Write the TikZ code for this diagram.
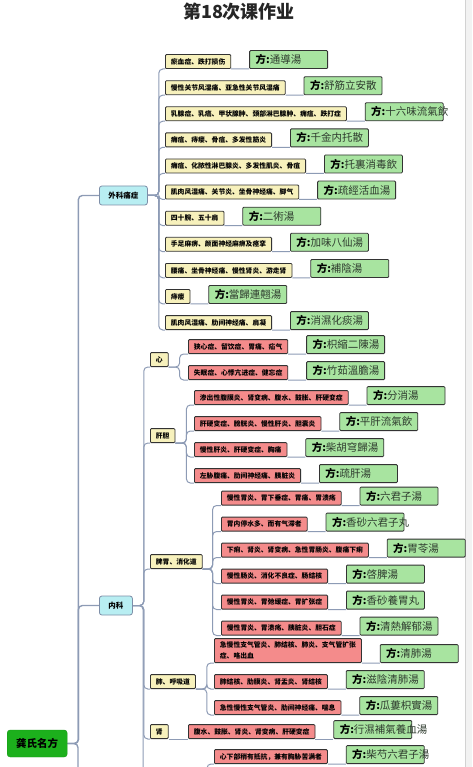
\documentclass[tikz,border=0pt]{standalone}
\usepackage{fontspec}
\setmainfont{Noto Sans CJK SC}
\usetikzlibrary{positioning,backgrounds}

\definecolor{wkcyan}{HTML}{B8EEF2}
\definecolor{catline}{HTML}{7E8EA8}
\definecolor{symyellow}{HTML}{F7F1BC}
\definecolor{illred}{HTML}{F48B8B}
\definecolor{fanggreen}{HTML}{A8E4A0}
\definecolor{rootgreen}{HTML}{1CB01C}
\definecolor{branchcol}{HTML}{8D9BB5}
\definecolor{boxedge}{HTML}{333333}
\definecolor{herbtext}{HTML}{2E3B2E}
\definecolor{stripgray}{HTML}{F2F2F2}

\newcommand{\fangname}[1]{\textbf{方:}{\color{herbtext}#1}}

\begin{document}
\begin{tikzpicture}[
    x=1pt, y=-1pt,
    node distance=18pt,
    title/.style={font=\fontsize{18}{20}\selectfont\bfseries, text=black!85},
    rootbox/.style={rectangle, draw=rootgreen!85!black, fill=rootgreen, rounded corners=3pt, minimum width=60pt, minimum height=27pt, font=\fontsize{10.5}{12}\selectfont\bfseries, anchor=west},
    catbox/.style={rectangle, draw=catline, line width=0.8pt, fill=wkcyan, rounded corners=2.5pt, minimum height=19pt, inner xsep=7pt, font=\fontsize{7.5}{9}\selectfont\bfseries, anchor=west},
    symbox/.style={rectangle, draw=boxedge, line width=0.8pt, fill=symyellow, rounded corners=1pt, minimum height=14pt, inner xsep=5.5pt, inner ysep=1pt, font=\fontsize{6.8}{8}\selectfont\bfseries},
    illbox/.style={symbox, fill=illred},
    fangbox/.style={rectangle, draw=boxedge, line width=0.8pt, fill=fanggreen, rounded corners=1pt, minimum height=18pt, text width=66pt, inner xsep=6pt, inner ysep=1pt, align=left, font=\fontsize{10.5}{12}\selectfont},
    branch/.style={draw=branchcol, line width=1.4pt, rounded corners=4pt},
    twig/.style={draw=branchcol, line width=1pt, rounded corners=4pt}
]
\useasboundingbox (0,0) rectangle (472,767);

% Title
\node[title] (ttl) at (239,12) {第18次课作业};

% Root and first level
\node[rootbox] (root) at (7,743.5) {龚氏名方};
\node[catbox, minimum width=48pt] (wk) at (99,195.5) {外科痛症};
\node[catbox, minimum width=33pt] (nk) at (99,605.5) {内科};

% 外科痛症
\node[symbox, anchor=south west] (w1) at (165,69) {瘀血症、跌打损伤};
\node[symbox, below=11.3pt of w1.south west, anchor=north west] (w2) {慢性关节风湿痛、亚急性关节风湿痛};
\node[symbox, below=11.3pt of w2.south west, anchor=north west] (w3) {乳腺症、乳癌、甲状腺肿、颈部淋巴腺肿、痈疽、跌打症};
\node[symbox, below=11.3pt of w3.south west, anchor=north west] (w4) {痈疽、痔瘘、骨疽、多发性筋炎};
\node[symbox, below=11.3pt of w4.south west, anchor=north west] (w5) {痈疽、化脓性淋巴腺炎、多发性肌炎、骨疽};
\node[symbox, below=11.3pt of w5.south west, anchor=north west] (w6) {肌肉风湿痛、关节炎、坐骨神经痛、脚气};
\node[symbox, below=11.3pt of w6.south west, anchor=north west] (w7) {四十腕、五十肩};
\node[symbox, below=11.3pt of w7.south west, anchor=north west] (w8) {手足麻痹、颜面神经麻痹及痉挛};
\node[symbox, below=11.3pt of w8.south west, anchor=north west] (w9) {腰痛、坐骨神经痛、慢性肾炎、游走肾};
\node[symbox, below=11.3pt of w9.south west, anchor=north west] (w10) {痔瘘};
\node[symbox, below=11.3pt of w10.south west, anchor=north west] (w11) {肌肉风湿痛、肋间神经痛、肩凝};

\node[fangbox, right=of w1.south east, anchor=south west] (wf1) {\fangname{通導湯}};
\node[fangbox, right=of w2.south east, anchor=south west] (wf2) {\fangname{舒筋立安散}};
\node[fangbox, right=of w3.south east, anchor=south west] (wf3) {\fangname{十六味流氣飲}};
\node[fangbox, right=of w4.south east, anchor=south west] (wf4) {\fangname{千金内托散}};
\node[fangbox, right=of w5.south east, anchor=south west] (wf5) {\fangname{托裏消毒飲}};
\node[fangbox, right=of w6.south east, anchor=south west] (wf6) {\fangname{疏經活血湯}};
\node[fangbox, right=of w7.south east, anchor=south west] (wf7) {\fangname{二術湯}};
\node[fangbox, right=of w8.south east, anchor=south west] (wf8) {\fangname{加味八仙湯}};
\node[fangbox, right=of w9.south east, anchor=south west] (wf9) {\fangname{補陰湯}};
\node[fangbox, right=of w10.south east, anchor=south west] (wf10) {\fangname{當歸連翹湯}};
\node[fangbox, right=of w11.south east, anchor=south west] (wf11) {\fangname{消濕化痰湯}};

% 内科 organs
\node[symbox, anchor=south west] (xin) at (150,367) {心};
\node[symbox, anchor=south west] (gd) at (150,443) {肝胆};
\node[symbox, anchor=south west] (pw) at (150,569) {脾胃、消化道};
\node[symbox, anchor=south west] (fei) at (150,689) {肺、呼吸道};
\node[symbox, anchor=south west] (shen) at (150,739) {肾};

% 心
\node[illbox, anchor=south west] (x1) at (188,354) {狭心症、留饮症、胃痛、疝气};
\node[illbox, below=11.2pt of x1.south west, anchor=north west] (x2) {失眠症、心悸亢进症、健忘症};
\node[fangbox, right=of x1.south east, anchor=south west] (xf1) {\fangname{枳縮二陳湯}};
\node[fangbox, right=of x2.south east, anchor=south west] (xf2) {\fangname{竹茹溫膽湯}};

% 肝胆
\node[illbox, anchor=south west] (g1) at (194,405) {渗出性腹膜炎、肾变病、腹水、鼓胀、肝硬变症};
\node[illbox, below=11.2pt of g1.south west, anchor=north west] (g2) {肝硬变症、膀胱炎、慢性肝炎、胆囊炎};
\node[illbox, below=11.2pt of g2.south west, anchor=north west] (g3) {慢性肝炎、肝硬变症、胸痛};
\node[illbox, below=11.2pt of g3.south west, anchor=north west] (g4) {左胁腹痛、肋间神经痛、胰脏炎};
\node[fangbox, right=of g1.south east, anchor=south west] (gf1) {\fangname{分消湯}};
\node[fangbox, right=of g2.south east, anchor=south west] (gf2) {\fangname{平肝流氣飲}};
\node[fangbox, right=of g3.south east, anchor=south west] (gf3) {\fangname{柴胡穹歸湯}};
\node[fangbox, right=of g4.south east, anchor=south west] (gf4) {\fangname{疏肝湯}};

% 脾胃、消化道
\node[illbox, anchor=south west] (p1) at (221,505.5) {慢性胃炎、胃下垂症、胃痛、胃溃疡};
\node[illbox, below=11.2pt of p1.south west, anchor=north west] (p2) {胃内停水多、而有气滞者};
\node[illbox, below=11.2pt of p2.south west, anchor=north west] (p3) {下痢、肾炎、肾变病、急性胃肠炎、腹痛下痢};
\node[illbox, below=11.2pt of p3.south west, anchor=north west] (p4) {慢性肠炎、消化不良症、肠结核};
\node[illbox, below=11.2pt of p4.south west, anchor=north west] (p5) {慢性胃炎、胃弛缓症、胃扩张症};
\node[illbox, below=11.2pt of p5.south west, anchor=north west] (p6) {慢性胃炎、胃溃疡、胰脏炎、胆石症};
\node[fangbox, right=of p1.south east, anchor=south west] (pf1) {\fangname{六君子湯}};
\node[fangbox, right=of p2.south east, anchor=south west] (pf2) {\fangname{香砂六君子丸}};
\node[fangbox, right=of p3.south east, anchor=south west] (pf3) {\fangname{胃苓湯}};
\node[fangbox, right=of p4.south east, anchor=south west] (pf4) {\fangname{啓脾湯}};
\node[fangbox, right=of p5.south east, anchor=south west] (pf5) {\fangname{香砂養胃丸}};
\node[fangbox, right=of p6.south east, anchor=south west] (pf6) {\fangname{清熱解郁湯}};

% 肺、呼吸道
\node[illbox, anchor=south west, align=left, minimum height=24pt, font=\fontsize{6.8}{11}\selectfont\bfseries] (e1) at (214,663) {急慢性支气管炎、肺结核、肺炎、支气管扩张\\症、咯出血};
\node[illbox, anchor=south west] (e2) at (214,689) {肺结核、肋膜炎、肾盂炎、肾结核};
\node[illbox, below=11.2pt of e2.south west, anchor=north west] (e3) {急性慢性支气管炎、肋间神经痛、喘息};
\node[fangbox, right=of e1.south east, anchor=south west] (ef1) {\fangname{清肺湯}};
\node[fangbox, right=of e2.south east, anchor=south west] (ef2) {\fangname{滋陰清肺湯}};
\node[fangbox, right=of e3.south east, anchor=south west] (ef3) {\fangname{瓜蔞枳實湯}};

% 肾
\node[illbox, anchor=south west] (s1) at (188,739) {腹水、鼓胀、肾炎、肾变病、肝硬变症};
\node[fangbox, right=of s1.south east, anchor=south west] (sf1) {\fangname{行濕補氣養血湯}};

% next organ, cut off below
\node[illbox, anchor=south west] (l1) at (214,764) {心下部稍有抵抗，兼有胸胁苦满者};
\node[fangbox, right=of l1.south east, anchor=south west] (lf1) {\fangname{柴芍六君子湯}};

% loose ends running off the page
\coordinate (rootend) at (78,772);
\coordinate (nkend) at (143,772);
\coordinate (l1end) at (207,772);

\begin{scope}[on background layer]
\fill[stripgray] (465,0) rectangle (472,767);
\draw[gray!35] (465,0) -- (465,767);

% Connectors
\draw[branch] (root.east) -| (rootend);
\draw[branch] (root.east) -- ++(11pt,0) |- (wk.west);
\draw[branch] (root.east) -- ++(11pt,0) |- (nk.west);

\draw[twig] (wk.east) -- ++(11pt,0) |- (w1.south west) (w1.south east) -- (wf1.south west);
\draw[twig] (wk.east) -- ++(11pt,0) |- (w2.south west) (w2.south east) -- (wf2.south west);
\draw[twig] (wk.east) -- ++(11pt,0) |- (w3.south west) (w3.south east) -- (wf3.south west);
\draw[twig] (wk.east) -- ++(11pt,0) |- (w4.south west) (w4.south east) -- (wf4.south west);
\draw[twig] (wk.east) -- ++(11pt,0) |- (w5.south west) (w5.south east) -- (wf5.south west);
\draw[twig] (wk.east) -- ++(11pt,0) |- (w6.south west) (w6.south east) -- (wf6.south west);
\draw[twig] (wk.east) -- ++(11pt,0) |- (w7.south west) (w7.south east) -- (wf7.south west);
\draw[twig] (wk.east) -- ++(11pt,0) |- (w8.south west) (w8.south east) -- (wf8.south west);
\draw[twig] (wk.east) -- ++(11pt,0) |- (w9.south west) (w9.south east) -- (wf9.south west);
\draw[twig] (wk.east) -- ++(11pt,0) |- (w10.south west) (w10.south east) -- (wf10.south west);
\draw[twig] (wk.east) -- ++(11pt,0) |- (w11.south west) (w11.south east) -- (wf11.south west);

\draw[twig] (nk.east) -| (nkend);
\draw[twig] (nk.east) -- ++(11pt,0) |- (xin.south west);
\draw[twig] (nk.east) -- ++(11pt,0) |- (gd.south west);
\draw[twig] (nk.east) -- ++(11pt,0) |- (pw.south west);
\draw[twig] (nk.east) -- ++(11pt,0) |- (fei.south west);
\draw[twig] (nk.east) -- ++(11pt,0) |- (shen.south west);

\draw[twig] (xin.south east) -- ++(11pt,0) |- (x1.south west) (x1.south east) -- (xf1.south west);
\draw[twig] (xin.south east) -- ++(11pt,0) |- (x2.south west) (x2.south east) -- (xf2.south west);

\draw[twig] (gd.south east) -- ++(11pt,0) |- (g1.south west) (g1.south east) -- (gf1.south west);
\draw[twig] (gd.south east) -- ++(11pt,0) |- (g2.south west) (g2.south east) -- (gf2.south west);
\draw[twig] (gd.south east) -- ++(11pt,0) |- (g3.south west) (g3.south east) -- (gf3.south west);
\draw[twig] (gd.south east) -- ++(11pt,0) |- (g4.south west) (g4.south east) -- (gf4.south west);

\draw[twig] (pw.south east) -- ++(10pt,0) |- (p1.south west) (p1.south east) -- (pf1.south west);
\draw[twig] (pw.south east) -- ++(10pt,0) |- (p2.south west) (p2.south east) -- (pf2.south west);
\draw[twig] (pw.south east) -- ++(10pt,0) |- (p3.south west) (p3.south east) -- (pf3.south west);
\draw[twig] (pw.south east) -- ++(10pt,0) |- (p4.south west) (p4.south east) -- (pf4.south west);
\draw[twig] (pw.south east) -- ++(10pt,0) |- (p5.south west) (p5.south east) -- (pf5.south west);
\draw[twig] (pw.south east) -- ++(10pt,0) |- (p6.south west) (p6.south east) -- (pf6.south west);

\draw[twig] (fei.south east) -- ++(11pt,0) |- (e1.south west) (e1.south east) -- (ef1.south west);
\draw[twig] (fei.south east) -- ++(11pt,0) |- (e2.south west) (e2.south east) -- (ef2.south west);
\draw[twig] (fei.south east) -- ++(11pt,0) |- (e3.south west) (e3.south east) -- (ef3.south west);

\draw[twig] (shen.south east) -- (s1.south west) (s1.south east) -- (sf1.south west);

\draw[twig] (l1.south west) -| (l1end) (l1.south east) -- (lf1.south west);
\end{scope}

\end{tikzpicture}
\end{document}
